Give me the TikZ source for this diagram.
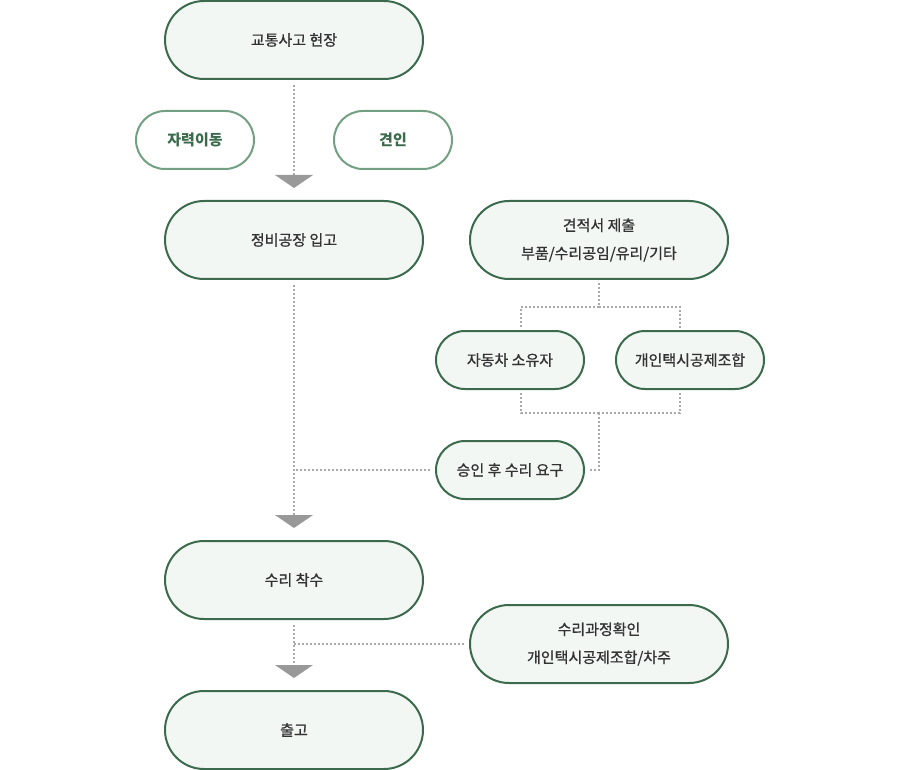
\documentclass[tikz,border=0pt]{standalone}
\usepackage{fontspec}
\setmainfont{Noto Sans CJK KR}
\newfontfamily\medfont[FakeBold=0.9]{Noto Sans CJK KR}
\usetikzlibrary{arrows.meta}
\definecolor{bd}{HTML}{3B6B4C}
\definecolor{bdl}{HTML}{73A083}
\definecolor{fl}{HTML}{F2F7F4}
\definecolor{tx}{HTML}{333333}
\definecolor{dl}{HTML}{AAAAAA}
\definecolor{tri}{HTML}{999999}
\tikzset{
  big/.style={draw=bd, line width=2pt, fill=fl, rounded corners=39pt, minimum width=258pt, minimum height=78pt, inner sep=0pt, text=tx, font=\medfont\fontsize{15pt}{28pt}\selectfont, align=center},
  mid/.style={draw=bd, line width=2pt, fill=fl, rounded corners=29pt, minimum width=148pt, minimum height=58pt, inner sep=0pt, text=tx, font=\medfont\fontsize{15pt}{28pt}\selectfont, align=center},
  alt/.style={draw=bdl, line width=2pt, fill=white, rounded corners=29pt, minimum width=118pt, minimum height=58pt, inner sep=0pt, text=bd, font=\fontsize{15pt}{28pt}\selectfont\bfseries, align=center},
  dots/.style={draw=dl, line width=1.7pt, dash pattern=on 1.7pt off 2.3pt},
  flow/.style={dots, -{Triangle[width=38pt,length=13pt,fill=tri,color=tri,line width=0pt]}, shorten >=12pt}
}
\begin{document}
\begin{tikzpicture}[x=1pt,y=-1pt]
\useasboundingbox (0,0) rectangle (900,770);
\node[big] (A) at (294,40) {교통사고 현장};
\node[alt] (A1) at (195,140) {자력이동};
\node[alt] (A2) at (393,140) {견인};
\node[big] (B) at (294,240) {정비공장 입고};
\node[big] (C) at (599,240) {견적서 제출\\부품/수리공임/유리/기타};
\node[mid] (D) at (510,360) {자동차 소유자};
\node[mid] (E) at (690,360) {개인택시공제조합};
\node[mid] (F) at (510,470) {승인 후 수리 요구};
\node[big] (G) at (294,580) {수리 착수};
\node[big] (H) at (599,644) {수리과정확인\\개인택시공제조합/차주};
\node[big] (I) at (294,730) {출고};
\coordinate (c1) at (599,307);
\coordinate (c2) at (599,413);
\coordinate (bF) at (294,470);
\coordinate (bH) at (294,644);
\draw[flow, shorten <=5pt] (A.south) -- (B.north);
\draw[flow, shorten <=5pt] (B.south) -- (G.north);
\draw[flow, shorten <=5pt] (G.south) -- (I.north);
\draw[dots, shorten <=5pt] (F.west) -- (bF);
\draw[dots, shorten <=5pt] (H.west) -- (bH);
\draw[dots, shorten <=3pt] (C.south) -- (c1);
\draw[dots, shorten >=2pt] (c1) -| (D.north -| 521,0);
\draw[dots, shorten >=2pt] (c1) -| (E.north -| 680,0);
\draw[dots, shorten <=3pt] (D.south -| 521,0) |- (c2);
\draw[dots, shorten <=3pt] (E.south -| 680,0) |- (c2);
\draw[dots, shorten >=5pt] (c2) |- (F.east);
\end{tikzpicture}
\end{document}
